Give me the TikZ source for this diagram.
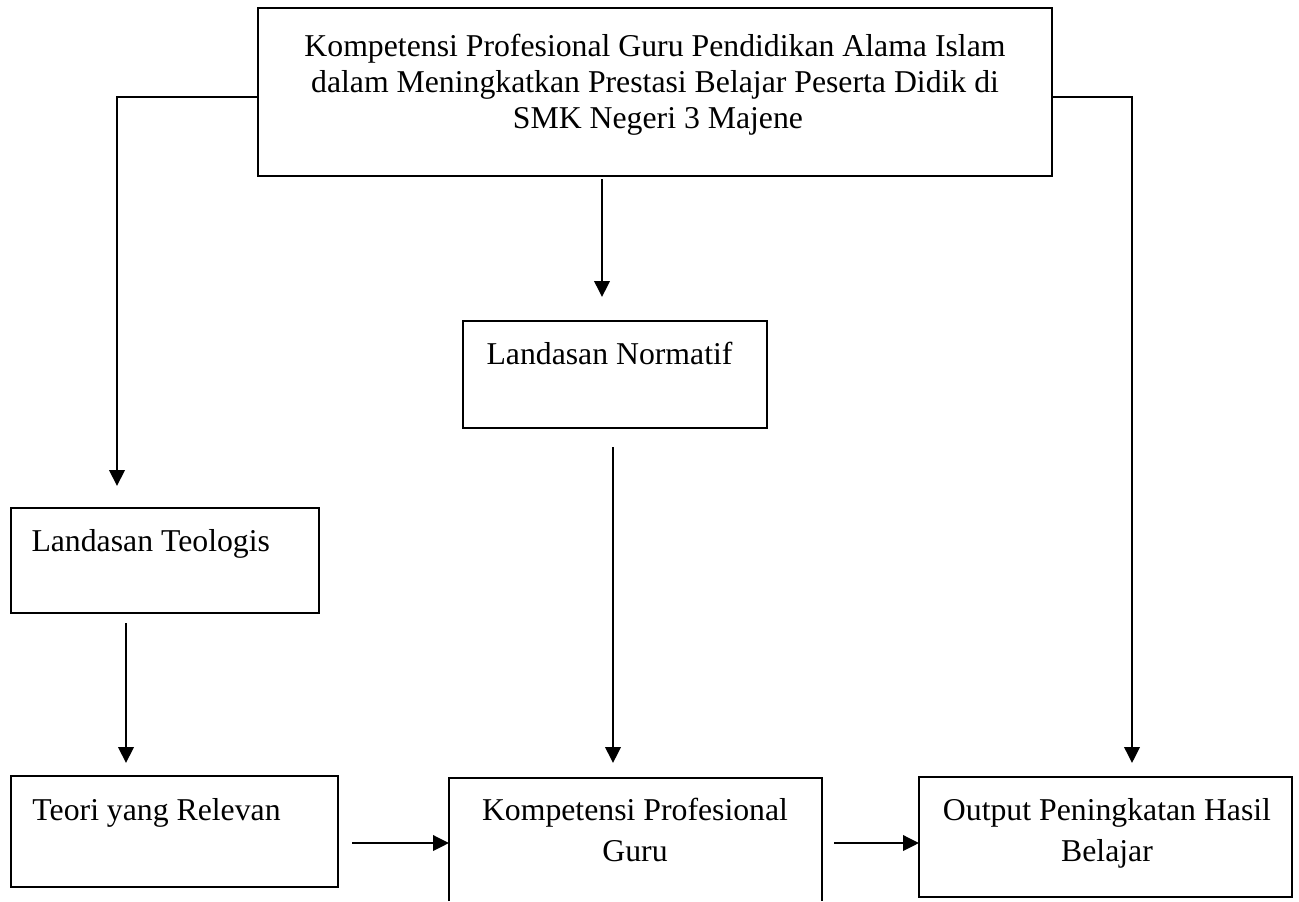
\documentclass[tikz,border=0pt]{standalone}
\usepackage{fontspec}
\setmainfont{Liberation Serif}
\usetikzlibrary{arrows.meta,fit}
\begin{document}
\begin{tikzpicture}[x=0.4pt,y=-0.4pt,
  box/.style={draw, line width=0.8pt, inner sep=0pt, outer sep=0pt},
  openbox/.style={inner sep=0pt, outer sep=0pt},
  txt/.style={inner sep=0pt, font=\fontsize{12.7}{15.4}\selectfont},
  conn/.style={line width=0.8pt, -{Triangle[length=6.4pt,width=6.2pt]}},
  plain/.style={line width=0.8pt}]
\useasboundingbox (0,0) rectangle (1299,901);
% boxes
\node[box, fit={(258,8) (1052,176)}] (top) {};
\node[box, fit={(463,321) (767,428)}] (norm) {};
\node[box, fit={(11,508) (319,613)}] (teo) {};
\node[box, fit={(11,776) (338,887)}] (teori) {};
\node[openbox, fit={(449,778) (822,901)}] (komp) {};
\draw[plain] (komp.south west) -- (komp.north west) -- (komp.north east) -- (komp.south east);
\node[box, fit={(919,777) (1292,897)}] (out) {};
% texts
\node[txt, anchor=base] (t1) at (655,56) {Kompetensi Profesional Guru Pendidikan Alama Islam};
\node[txt, anchor=base] (t2) at (655,92) {dalam Meningkatkan Prestasi Belajar Peserta Didik di};
\node[txt, anchor=base] (t3) at (658,128) {SMK Negeri 3 Majene};
\node[txt, anchor=base west] (tn) at (486,364) {Landasan Normatif};
\node[txt, anchor=base west] (tt) at (31,551) {Landasan Teologis};
\node[txt, anchor=base west] (tr) at (32,820) {Teori yang Relevan};
\node[txt, anchor=base] (tk1) at (635,820) {Kompetensi Profesional};
\node[txt, anchor=base] (tk2) at (635,861) {Guru};
\node[txt, anchor=base] (to1) at (1107,820) {Output Peningkatan Hasil};
\node[txt, anchor=base] (to2) at (1107,861) {Belajar};
% connector points
\coordinate (lcorner) at (117,97);
\coordinate (ltip) at (117,486);
\coordinate (rcorner) at (1132,97);
\coordinate (rtip) at (1132,763);
\coordinate (c1s) at (602,179);
\coordinate (c1e) at (602,297);
\coordinate (c2s) at (613,447);
\coordinate (c2e) at (613,763);
\coordinate (c3s) at (126,623);
\coordinate (c3e) at (126,763);
\coordinate (h1s) at (352,843);
\coordinate (h2s) at (834,843);
% connectors
\draw[conn] (top.west |- lcorner) -- (lcorner) -- (ltip);
\draw[conn] (top.east |- rcorner) -- (rcorner) -- (rtip);
\draw[conn] (c1s) -- (c1e);
\draw[conn] (c2s) -- (c2e);
\draw[conn] (c3s) -- (c3e);
\draw[conn] (h1s) -- (komp.west |- h1s);
\draw[conn] (h2s) -- (out.west |- h2s);
\end{tikzpicture}
\end{document}
